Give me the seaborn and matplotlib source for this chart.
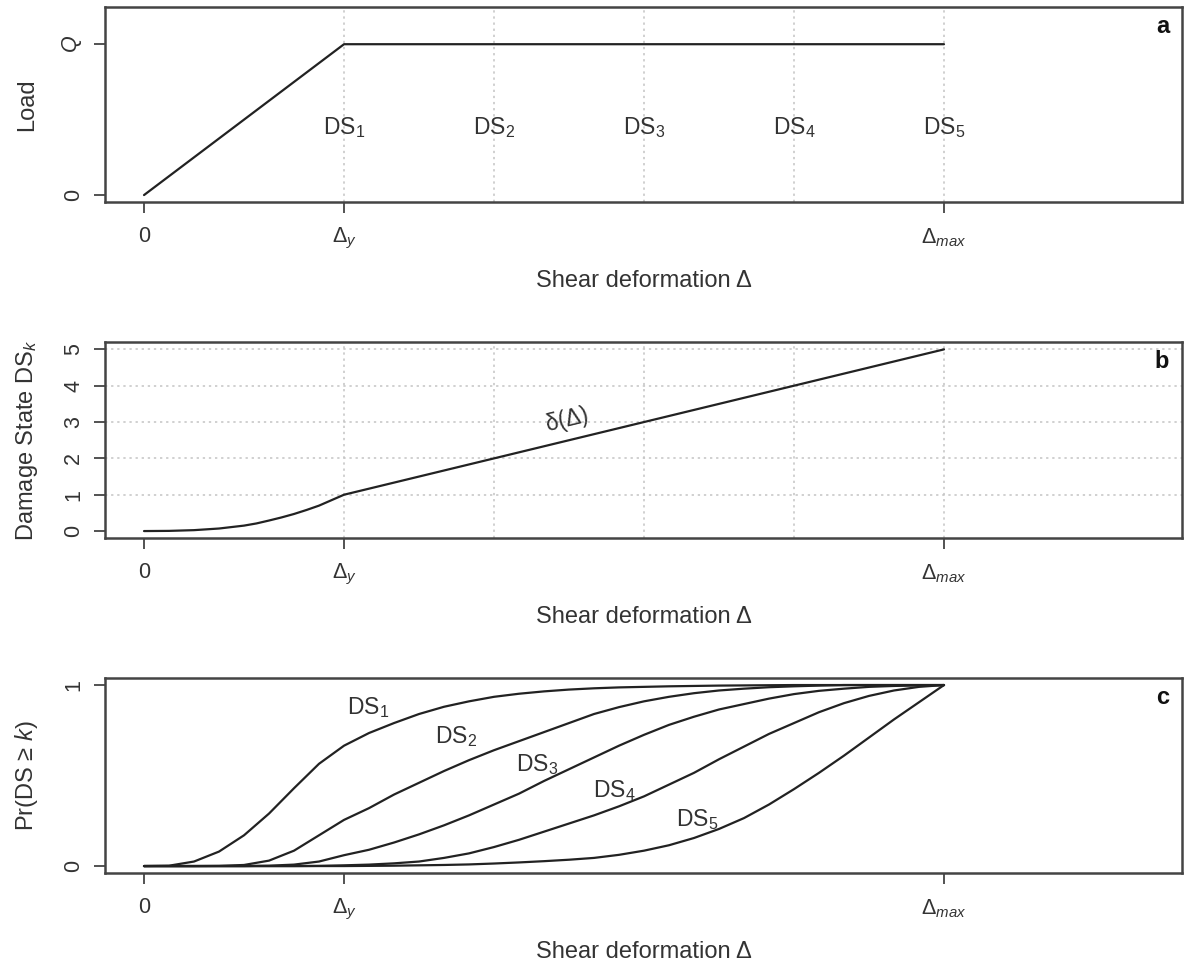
import numpy as np
import pandas as pd
import matplotlib
matplotlib.use("Agg")
import matplotlib.pyplot as plt
import seaborn as sns

# ---------------- data ----------------
# panel a: load-deformation curve
load_x = [0, 1, 4]
load_y = [0, 1, 1]
ds_thresholds = [1, 1.75, 2.5, 3.25, 4]
ds_labels = ["DS$_1$", "DS$_2$", "DS$_3$", "DS$_4$", "DS$_5$"]

# panel b: damage-state function delta(Delta)
delta_x = [0, 0.125, 0.25, 0.375, 0.5, 0.5625, 0.625, 0.6875, 0.75, 0.8125,
           0.875, 0.9375, 1.0, 4.0]
delta_y = [0, 0.005, 0.025, 0.07, 0.15, 0.21, 0.29, 0.375, 0.47, 0.58,
           0.70, 0.85, 1.0, 5.0]

# panel c: exceedance probabilities Pr(DS >= k)
prob_x = [0, 0.125, 0.25, 0.375, 0.5, 0.625, 0.75, 0.875, 1.0,
          1.125, 1.25, 1.375, 1.5, 1.625, 1.75, 1.875, 2.0,
          2.125, 2.25, 2.375, 2.5, 2.625, 2.75, 2.875, 3.0,
          3.125, 3.25, 3.375, 3.5, 3.625, 3.75, 3.875, 4.0]
pr_ds1 = [0, 0.002, 0.025, 0.08, 0.17, 0.29, 0.43, 0.565, 0.665,
          0.735, 0.79, 0.84, 0.88, 0.91, 0.935, 0.952, 0.965,
          0.975, 0.982, 0.987, 0.99, 0.993, 0.995, 0.997, 0.998,
          0.999, 1.0, 1.0, 1.0, 1.0, 1.0, 1.0, 1.0]
pr_ds2 = [0, 0, 0, 0.001, 0.006, 0.03, 0.085, 0.17, 0.255,
          0.32, 0.395, 0.46, 0.525, 0.585, 0.64, 0.69, 0.74,
          0.79, 0.84, 0.878, 0.91, 0.935, 0.955, 0.97, 0.98,
          0.988, 0.993, 0.997, 1.0, 1.0, 1.0, 1.0, 1.0]
pr_ds3 = [0, 0, 0, 0, 0, 0.002, 0.008, 0.025, 0.06,
          0.09, 0.13, 0.175, 0.225, 0.28, 0.34, 0.40, 0.47,
          0.535, 0.60, 0.665, 0.725, 0.78, 0.825, 0.865, 0.895,
          0.925, 0.95, 0.968, 0.98, 0.99, 0.995, 0.998, 1.0]
pr_ds4 = [0, 0, 0, 0, 0, 0, 0, 0.001, 0.004,
          0.008, 0.015, 0.025, 0.045, 0.07, 0.105, 0.145, 0.19,
          0.235, 0.28, 0.33, 0.385, 0.45, 0.515, 0.59, 0.66,
          0.73, 0.79, 0.85, 0.90, 0.94, 0.97, 0.99, 1.0]
pr_ds5 = [0, 0, 0, 0, 0, 0, 0, 0, 0,
          0.001, 0.002, 0.004, 0.006, 0.009, 0.014, 0.02, 0.027,
          0.035, 0.045, 0.062, 0.085, 0.115, 0.155, 0.205, 0.265,
          0.34, 0.425, 0.515, 0.61, 0.71, 0.81, 0.905, 1.0]
pr_series = [pr_ds1, pr_ds2, pr_ds3, pr_ds4, pr_ds5]

x_ticks = [0, 1, 4]
x_ticklabels = ["0", r"$\Delta_y$", r"$\Delta_{max}$"]

# ---------------- style ----------------
sns.set_theme(style="white")
plt.rcParams["font.family"] = ["Liberation Sans", "DejaVu Sans"]
plt.rcParams.update({
    "mathtext.fontset": "custom",
    "mathtext.rm": "Liberation Sans",
    "mathtext.it": "Liberation Sans:italic",
    "mathtext.bf": "Liberation Sans:bold",
    "text.color": "#333333",
    "axes.labelcolor": "#333333",
})

INK = "#222222"
FRAME = "#444444"
GRID = "#c4c4c4"
TICK_FS = 15.5
LABEL_FS = 17

fig = plt.figure(figsize=(11.84, 9.67), dpi=100)
left, width = 0.0887, 0.9096
ax_a = fig.add_axes([left, 0.7908, width, 0.2017])
ax_b = fig.add_axes([left, 0.4433, width, 0.2033])
ax_c = fig.add_axes([left, 0.0969, width, 0.2016])


def style_axes(ax, ylim, yticks, yticklabels, ylabel, letter):
    ax.set_xlim(-0.195, 5.19)
    ax.set_ylim(*ylim)
    ax.set_xticks(x_ticks)
    ax.set_xticklabels(x_ticklabels)
    ax.set_yticks(yticks)
    ax.set_yticklabels(yticklabels, rotation=90, va="center")
    ax.tick_params(axis="both", which="major", bottom=True, left=True,
                   top=False, right=False, direction="out", length=8,
                   width=1.3, color=FRAME, labelsize=TICK_FS,
                   labelcolor="#333333")
    ax.tick_params(axis="x", pad=9)
    ax.tick_params(axis="y", pad=7)
    for s in ax.spines.values():
        s.set_visible(True)
        s.set_color(FRAME)
        s.set_linewidth(1.8)
    ax.set_xlabel("Shear deformation Δ", fontsize=LABEL_FS, va="top")
    ax.xaxis.set_label_coords(0.5, -0.345)
    ax.set_ylabel(ylabel, fontsize=LABEL_FS, va="baseline")
    ax.yaxis.set_label_coords(-0.067, 0.5)
    ax.text(0.988, 0.96, letter, transform=ax.transAxes, ha="right", va="top",
            fontsize=LABEL_FS, fontweight="bold", color="#111111")
    ax.grid(False)


DOT = (0, (1.5, 2.5))

# ---- panel a ----
for xv in ds_thresholds:
    ax_a.axvline(xv, color=GRID, lw=1.1, ls=DOT, zorder=0)
sns.lineplot(x=load_x, y=load_y, ax=ax_a, color=INK, lw=1.6,
             estimator=None, sort=False)
for xv, lab in zip(ds_thresholds, ds_labels):
    ax_a.text(xv, 0.45, lab, ha="center", va="center", fontsize=LABEL_FS - 0.5,
              color="#333333")
style_axes(ax_a, (-0.048, 1.245), [0, 1], ["0", "$Q$"], "Load", "a")

# ---- panel b ----
for yv in [1, 2, 3, 4, 5]:
    ax_b.axhline(yv, color=GRID, lw=1.1, ls=DOT, zorder=0)
for xv in ds_thresholds:
    ax_b.axvline(xv, color=GRID, lw=1.1, ls=DOT, zorder=0)
sns.lineplot(x=delta_x, y=delta_y, ax=ax_b, color=INK, lw=1.6,
             estimator=None, sort=False)
ax_b.text(2.115, 3.05, "δ(Δ)", ha="center", va="center", rotation=13.6,
          fontsize=LABEL_FS - 0.5, color="#333333")
style_axes(ax_b, (-0.2, 5.21), [0, 1, 2, 3, 4, 5],
           ["0", "1", "2", "3", "4", "5"], "Damage State DS$_k$", "b")

# ---- panel c ----
for ys in pr_series:
    sns.lineplot(x=prob_x, y=ys, ax=ax_c, color=INK, lw=1.6,
                 estimator=None, sort=False)
label_pos = [(1.12, 0.875), (1.56, 0.715), (1.965, 0.56), (2.35, 0.417), (2.765, 0.257)]
for (lx, ly), lab in zip(label_pos, ds_labels):
    ax_c.text(lx, ly, lab, ha="center", va="center", fontsize=LABEL_FS - 0.5,
              color="#333333")
style_axes(ax_c, (-0.04, 1.037), [0, 1], ["0", "1"], "Pr(DS ≥ $k$)", "c")

fig.savefig("out.png", dpi=100, facecolor="white")
